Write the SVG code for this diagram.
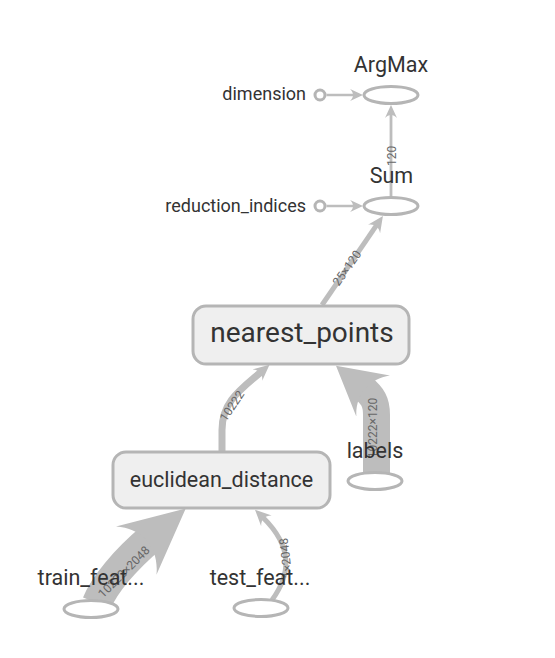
<svg xmlns="http://www.w3.org/2000/svg" width="555" height="658" viewBox="0 0 555 658">
<style>
text{font-family:Roboto,"Liberation Sans",sans-serif}
.edge{fill:none;stroke:#bdbdbd;stroke-linecap:butt}
.elab{font-size:12px;fill:#666;text-anchor:middle}
.op{fill:#fff;stroke:#b5b5b5;stroke-width:3}
.meta{fill:#efefef;stroke:#b5b5b5;stroke-width:3}
.nlab{font-size:21.5px;fill:#333;text-anchor:middle}
.clab{font-size:18px;fill:#333;text-anchor:end}
.ah{fill:#bdbdbd}
</style>
<defs>
<marker id="ah-s" viewBox="0 0 10 10" refX="3" refY="5" markerUnits="userSpaceOnUse" markerWidth="13" markerHeight="12" preserveAspectRatio="none" orient="auto"><path class="ah" d="M0,0 L10,5 L0,10 C3,7 3,3 0,0 Z"/></marker>
<marker id="ah-m" viewBox="0 0 10 10" refX="3" refY="5" markerUnits="userSpaceOnUse" markerWidth="16" markerHeight="15" preserveAspectRatio="none" orient="auto"><path class="ah" d="M0,0 L10,5 L0,10 C3,7 3,3 0,0 Z"/></marker>
<marker id="ah-l" viewBox="0 0 10 10" refX="3" refY="5" markerUnits="userSpaceOnUse" markerWidth="48" markerHeight="53" preserveAspectRatio="none" orient="auto"><path class="ah" d="M0,0 L10,5 L0,10 C3,7 3,3 0,0 Z"/></marker>
<marker id="ah-xl" viewBox="0 0 10 10" refX="3" refY="5" markerUnits="userSpaceOnUse" markerWidth="65" markerHeight="63" preserveAspectRatio="none" orient="auto"><path class="ah" d="M0,0 L10,5 L0,10 C3,7 3,3 0,0 Z"/></marker>
</defs>
<g id="edges">
<path class="edge" d="M326.5 95 L354 95" stroke-width="2.5" marker-end="url(#ah-s)"/>
<path class="edge" d="M326.5 206 L354 206" stroke-width="2.5" marker-end="url(#ah-s)"/>
<path class="edge" d="M391 196 L391 114" stroke-width="2.8" marker-end="url(#ah-s)"/>
<text class="elab" transform="translate(392,156) rotate(-90)" dy="4">120</text>
<path class="edge" d="M322 305 L376.6 225.2" stroke-width="5" marker-end="url(#ah-m)"/>
<text class="elab" transform="translate(347,268) rotate(-55)" dy="4">25×120</text>
<path class="edge" d="M222 452 L222 430 C222 402 240 390 261 372" stroke-width="7" marker-end="url(#ah-m)"/>
<text class="elab" transform="translate(232,406) rotate(-56)" dy="4">10222</text>
<path class="edge" d="M376.5 474 L376.5 415 C376.5 402 373 396 362 387" stroke-width="27" marker-end="url(#ah-l)"/>
<text class="elab" transform="translate(373,428) rotate(-90)" dy="4">10222×120</text>
<path class="edge" d="M97 603 C104 585 125 560 151 538" stroke-width="30" marker-end="url(#ah-xl)"/>
<text class="elab" transform="translate(124,572) rotate(-45)" dy="4">10222×2048</text>
<path class="edge" d="M272 600 C290 575 294 548 263 517.5" stroke-width="5" marker-end="url(#ah-m)"/>
<text class="elab" transform="translate(286,558) rotate(-97)" dy="4">1×2048</text>
</g>
<g id="node-ArgMax">
<ellipse class="op" cx="391" cy="95" rx="27" ry="8.5"/>
<text class="nlab" x="391" y="72">ArgMax</text>
</g>
<g id="node-dimension">
<circle class="op" cx="320" cy="95" r="5"/>
<text class="clab" x="306" y="100">dimension</text>
</g>
<g id="node-Sum">
<ellipse class="op" cx="391" cy="206" rx="27" ry="8.5"/>
<text class="nlab" x="391.5" y="183">Sum</text>
</g>
<g id="node-reduction_indices">
<circle class="op" cx="320" cy="206" r="5"/>
<text class="clab" x="306" y="212">reduction_indices</text>
</g>
<g id="node-nearest_points">
<rect class="meta" x="193" y="306" width="216" height="58" rx="13"/>
<text x="302" y="342" style="font-size:28px;fill:#333;text-anchor:middle">nearest_points</text>
</g>
<g id="node-euclidean_distance">
<rect class="meta" x="113" y="452" width="217" height="56" rx="13"/>
<text class="nlab" x="221.5" y="487">euclidean_distance</text>
</g>
<g id="node-labels">
<ellipse class="op" cx="375" cy="481" rx="27" ry="8.5"/>
<text class="nlab" x="375" y="458">labels</text>
</g>
<g id="node-train_features">
<ellipse class="op" cx="91" cy="609" rx="27" ry="8.5"/>
<text class="nlab" x="91" y="585">train_feat...</text>
</g>
<g id="node-test_features">
<ellipse class="op" cx="261" cy="608" rx="27" ry="8.5"/>
<text class="nlab" x="260" y="585">test_feat...</text>
</g>
</svg>
